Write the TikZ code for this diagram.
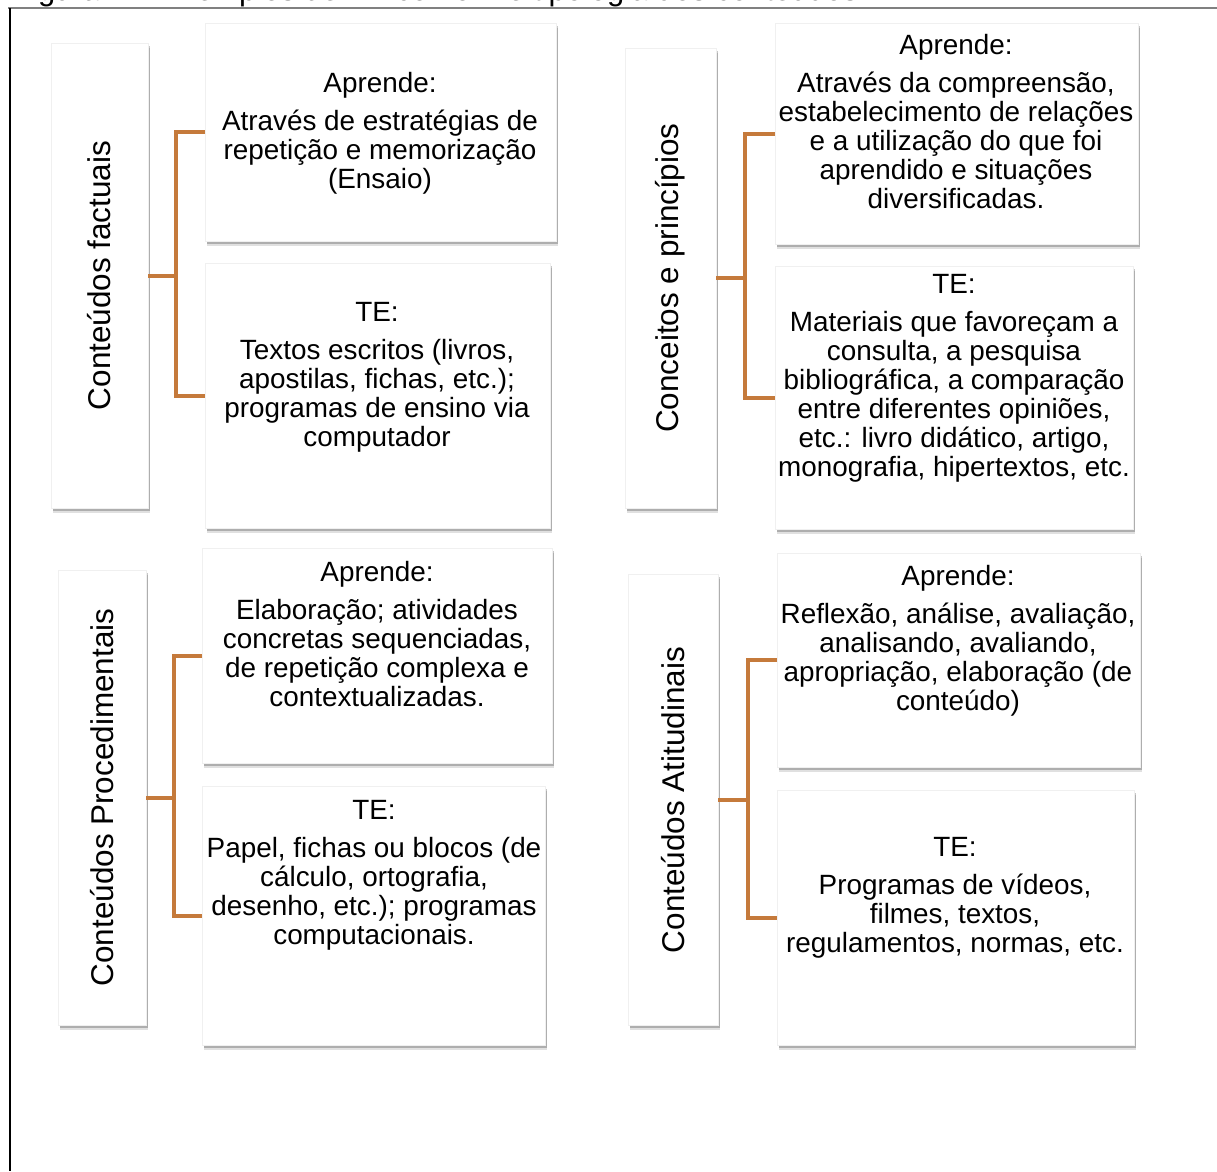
\documentclass[tikz,border=0pt]{standalone}
\usepackage{fontspec}
\setmainfont{Liberation Sans}
\usetikzlibrary{shadows}
\definecolor{conn}{RGB}{197,122,59}
\begin{document}
\begin{tikzpicture}[x=0.75pt,y=-0.75pt,
  box/.style={fill=white, draw=black!6, line width=0.4pt, inner sep=0pt, outer sep=0pt,
    drop shadow={shadow xshift=1.8pt, shadow yshift=-4pt, opacity=0.12, fill=black},
    drop shadow={shadow xshift=1.2pt, shadow yshift=-2.4pt, opacity=0.22, fill=black}},
  txt/.style={align=center, font=\fontsize{20.9pt}{21.75pt}\selectfont, inner sep=0pt},
  lbl/.style={rotate=90, font=\fontsize{23.6pt}{26pt}\selectfont, inner sep=0pt},
  cn/.style={draw=conn, line width=3pt}]
\useasboundingbox (0,0) rectangle (1217,1171);
\clip (0,0) rectangle (1217,1171);
\fill[white] (0,0) rectangle (1217,1171);
% caption (cut off at top, as in the reference)
\node[anchor=base west, inner sep=0pt, font=\fontsize{23.2pt}{26pt}\selectfont] (cap) at (12,0.5) {Figura 4 – Exemplos de TE conforme tipologia dos conteúdos};
% frame
\coordinate (fa) at (8,8);
\coordinate (fb) at (1217,8);
\coordinate (fc) at (10,8);
\coordinate (fd) at (10,1171);
\draw[black!50, line width=1.5pt] (fa) -- (fb);
\draw[black, line width=1.5pt] (fc) -- (fd);

% boxes
\node[box, minimum width=97*0.75pt, minimum height=465*0.75pt] (L1) at (99.5,275.5) {};
\node[box, minimum width=351*0.75pt, minimum height=218*0.75pt] (A1) at (380.5,132) {};
\node[box, minimum width=345*0.75pt, minimum height=265*0.75pt] (T1) at (377.5,395.5) {};
\node[box, minimum width=91*0.75pt, minimum height=460*0.75pt] (L2) at (670.5,278) {};
\node[box, minimum width=363*0.75pt, minimum height=221*0.75pt] (A2) at (956.5,133.5) {};
\node[box, minimum width=358*0.75pt, minimum height=263*0.75pt] (T2) at (954,397.5) {};
\node[box, minimum width=88*0.75pt, minimum height=455*0.75pt] (L3) at (102,797.5) {};
\node[box, minimum width=350*0.75pt, minimum height=215*0.75pt] (A3) at (377,655.5) {};
\node[box, minimum width=343*0.75pt, minimum height=259*0.75pt] (T3) at (373.5,915.5) {};
\node[box, minimum width=90*0.75pt, minimum height=451*0.75pt] (L4) at (673,799.5) {};
\node[box, minimum width=363*0.75pt, minimum height=214*0.75pt] (A4) at (958.5,660) {};
\node[box, minimum width=357*0.75pt, minimum height=255*0.75pt] (T4) at (955.5,917.5) {};

% labels
\node[lbl] (L1t) at (99.5,275.5) {Conteúdos factuais};
\node[lbl] (L2t) at (670.5,278) {Conceitos e princípios};
\node[lbl] (L3t) at (102,797.5) {Conteúdos Procedimentais};
\node[lbl] (L4t) at (673,800) {Conteúdos Atitudinais};

% texts
\node[txt] (A1t) at (380,133.5) {Aprende:\\[6.75pt]Através de estratégias de\\repetição e memorização\\(Ensaio)};
\node[txt] (T1t) at (377,377) {TE:\\[6.75pt]Textos escritos (livros,\\apostilas, fichas, etc.);\\programas de ensino via\\computador};
\node[txt] (A2t) at (956,121.5) {Aprende:\\[6.75pt]Através da compreensão,\\estabelecimento de relações\\e a utilização do que foi\\aprendido e situações\\diversificadas.};
\node[txt] (T2t) at (954,378.5) {TE:\\[6.75pt]Materiais que favoreçam a\\consulta, a pesquisa\\bibliográfica, a comparação\\entre diferentes opiniões,\\etc.: livro didático, artigo,\\monografia, hipertextos, etc.};
\node[txt] (A3t) at (377,634) {Aprende:\\[6.75pt]Elaboração; atividades\\concretas sequenciadas,\\de repetição complexa e\\contextualizadas.};
\node[txt] (T3t) at (374,875) {TE:\\[6.75pt]Papel, fichas ou blocos (de\\cálculo, ortografia,\\desenho, etc.); programas\\computacionais.};
\node[txt] (A4t) at (958,640.5) {Aprende:\\[6.75pt]Reflexão, análise, avaliação,\\analisando, avaliando,\\apropriação, elaboração (de\\conteúdo)};
\node[txt] (T4t) at (955,898) {TE:\\[6.75pt]Programas de vídeos,\\filmes, textos,\\regulamentos, normas, etc.};

% connectors
\coordinate (j1) at (176,275.5);
\coordinate (j2) at (745,278);
\coordinate (j3) at (174,797.5);
\coordinate (j4) at (748,799.5);
\draw[cn] (L1.east) -- (j1);
\draw[cn] (A1.west) -| (j1) |- (T1.west);
\draw[cn] (L2.east) -- (j2);
\draw[cn] (A2.west) -| (j2) |- (T2.west);
\draw[cn] (L3.east) -- (j3);
\draw[cn] (A3.west) -| (j3) |- (T3.west);
\draw[cn] (L4.east) -- (j4);
\draw[cn] (A4.west) -| (j4) |- (T4.west);
\end{tikzpicture}
\end{document}
